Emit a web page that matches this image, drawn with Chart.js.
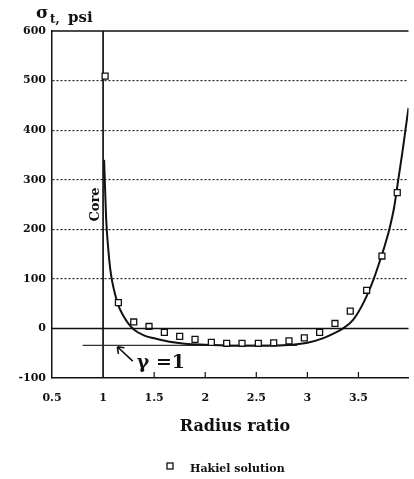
<!DOCTYPE html>
<html>
<head>
<meta charset="utf-8">
<script src="https://cdn.jsdelivr.net/npm/chart.js@4.4.1/dist/chart.umd.min.js"></script>
<style>
  html, body { margin: 0; padding: 0; background: #fff; }
  #wrap { width: 414px; height: 479px; }
</style>
</head>
<body>
<div id="wrap"><canvas id="stressChart" width="414" height="479"></canvas></div>
<script>
// Hakiel solution (squares)
const hakielRatio  = [1.02, 1.15, 1.30, 1.45, 1.60, 1.75, 1.90, 2.06, 2.21, 2.36, 2.52, 2.67, 2.82, 2.97, 3.12, 3.27, 3.42, 3.58, 3.73, 3.88];
const hakielStress = [509, 52, 13, 4, -8, -16, -22, -28, -30, -30, -30, -29, -25, -19, -8, 10, 35, 77, 146, 274];

// solid curve
const curveRatio  = [1.01, 1.02, 1.03, 1.05, 1.07, 1.09, 1.12, 1.15, 1.20, 1.25, 1.30, 1.40, 1.50, 1.65, 1.80, 2.00, 2.30, 2.60, 2.85, 3.00, 3.15, 3.25, 3.35, 3.45, 3.55, 3.65, 3.70, 3.75, 3.80, 3.85, 3.89, 3.93, 3.96, 3.99];
const curveStress = [340, 280, 222, 162, 120, 94, 67, 46, 25, 9, -2, -14, -20, -27, -31, -33, -35, -35, -33, -29, -20, -11, 0, 18, 52, 100, 130, 162, 198, 245, 300, 355, 400, 445];

// gamma = 1 line
const gammaRatio  = [0.8, 2.9];
const gammaStress = [-34, -34];

const coreRatio = 1;
const xTicks = [0.5, 1, 1.5, 2, 2.5, 3, 3.5];
const yTicks = [-100, 0, 100, 200, 300, 400, 500, 600];

const serif = "'DejaVu Serif', 'Liberation Serif', serif";

const toPts = (xs, ys) => xs.map((x, i) => ({ x: x, y: ys[i] }));

const decorations = {
    id: 'decorations',
    afterDraw(chart) {
        const c = chart.ctx;
        const x = chart.scales.x, y = chart.scales.y;
        const area = chart.chartArea;
        c.save();
        // frame top + zero line
        c.strokeStyle = '#111';
        c.lineWidth = 1.5;
        c.beginPath();
        c.moveTo(area.left, y.getPixelForValue(600));
        c.lineTo(area.right, y.getPixelForValue(600));
        c.moveTo(area.left, y.getPixelForValue(0));
        c.lineTo(area.right, y.getPixelForValue(0));
        c.stroke();
        // small ticks on bottom axis
        c.lineWidth = 1.2;
        c.beginPath();
        xTicks.slice(2).forEach(v => {
            const px = x.getPixelForValue(v);
            c.moveTo(px, area.bottom);
            c.lineTo(px, area.bottom - 6);
        });
        c.stroke();

        // y title
        c.fillStyle = '#111';
        c.textBaseline = 'alphabetic';
        c.textAlign = 'left';
        c.font = 'bold 17px ' + serif;
        c.fillText('σ', 36, 18);
        c.font = 'bold 12px ' + serif;
        c.fillText('t,', 50, 23);
        c.font = 'bold 15px ' + serif;
        c.fillText('psi', 68, 22);

        // Core label
        c.save();
        c.translate(x.getPixelForValue(coreRatio) - 4, y.getPixelForValue(250));
        c.rotate(-Math.PI / 2);
        c.textAlign = 'center';
        c.font = 'bold 13px ' + serif;
        c.fillText('Core', 0, 0);
        c.restore();

        // gamma label + arrow
        const ax = x.getPixelForValue(1.14), ay = y.getPixelForValue(-37);
        const bx = x.getPixelForValue(1.29), by = y.getPixelForValue(-66);
        c.lineWidth = 1.6;
        c.beginPath();
        c.moveTo(bx, by);
        c.lineTo(ax, ay);
        c.moveTo(ax, ay);
        c.lineTo(ax + 7, ay + 1);
        c.moveTo(ax, ay);
        c.lineTo(ax + 1, ay + 7);
        c.stroke();
        c.font = 'bold 19px ' + serif;
        c.fillText('γ =1', x.getPixelForValue(1.33), y.getPixelForValue(-79));

        // x title
        c.textAlign = 'center';
        c.font = 'bold 16px ' + serif;
        c.fillText('Radius ratio', 235, 431);

        // legend
        c.lineWidth = 1.3;
        c.strokeRect(167, 463, 6, 6);
        c.textAlign = 'left';
        c.font = 'bold 11px ' + serif;
        c.fillText(chart.data.datasets[0].label, 190, 472);
        c.restore();
    }
};

const ctx = document.getElementById('stressChart').getContext('2d');
const stressChart = new Chart(ctx, {
    type: 'scatter',
    data: {
        datasets: [{
            label: 'Hakiel solution',
            data: toPts(hakielRatio, hakielStress),
            pointStyle: 'rect',
            pointRadius: 4.2,
            pointBorderWidth: 1.3,
            pointBorderColor: '#111',
            pointBackgroundColor: '#fff',
            showLine: false
        }, {
            label: 'curve',
            data: toPts(curveRatio, curveStress),
            showLine: true,
            borderColor: '#111',
            borderWidth: 2,
            pointRadius: 0,
            cubicInterpolationMode: 'monotone'
        }, {
            label: 'gamma',
            data: toPts(gammaRatio, gammaStress),
            showLine: true,
            borderColor: '#333',
            borderWidth: 1.3,
            pointRadius: 0
        }, {
            label: 'core',
            data: [{ x: coreRatio, y: -100 }, { x: coreRatio, y: 600 }],
            showLine: true,
            borderColor: '#111',
            borderWidth: 1.7,
            pointRadius: 0
        }]
    },
    options: {
        responsive: false,
        animation: false,
        layout: { padding: { top: 31, left: 0, right: 0, bottom: 0 } },
        plugins: {
            legend: { display: false },
            tooltip: { enabled: false }
        },
        scales: {
            x: {
                type: 'linear',
                min: 0.5,
                max: 3.99,
                afterBuildTicks: s => { s.ticks = xTicks.map(v => ({ value: v })); },
                afterFit: s => { s.height = 101; },
                grid: { display: false },
                border: { display: true, color: '#111', width: 1.5 },
                ticks: {
                    color: '#111',
                    padding: 6,
                    maxRotation: 0,
                    font: { family: serif, size: 11, weight: 'bold' },
                    callback: v => String(v)
                }
            },
            y: {
                type: 'linear',
                min: -100,
                max: 600,
                afterBuildTicks: s => { s.ticks = yTicks.map(v => ({ value: v })); },
                afterFit: s => { s.width = 52; },
                grid: {
                    drawTicks: false,
                    color: ctx => (ctx.tick && [100, 200, 300, 400, 500].includes(ctx.tick.value)) ? '#222' : 'rgba(0,0,0,0)',
                    lineWidth: 1.2
                },
                border: { display: true, color: '#111', width: 1.5, dash: [2, 2] },
                ticks: {
                    color: '#111',
                    padding: 6,
                    font: { family: serif, size: 11, weight: 'bold' },
                    callback: v => String(v)
                }
            }
        }
    },
    plugins: [decorations]
});
</script>
</body>
</html>
